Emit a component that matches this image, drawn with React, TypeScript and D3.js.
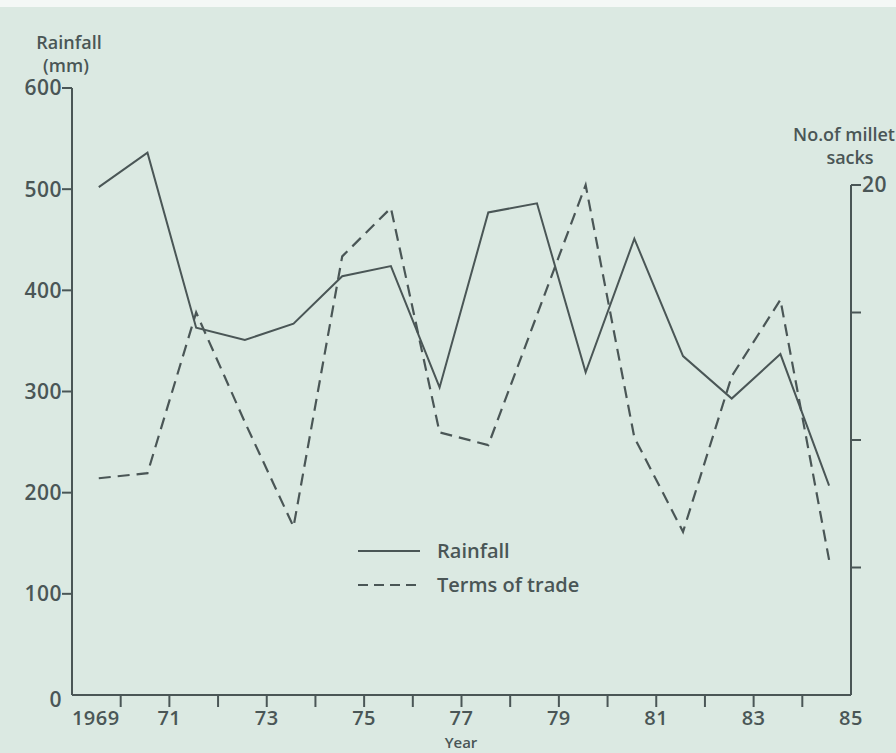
import React from "react";
import * as d3 from "d3";

// data (one value per year, 1969..1984)
const years = [1969, 1970, 1971, 1972, 1973, 1974, 1975, 1976, 1977, 1978, 1979, 1980, 1981, 1982, 1983, 1984];
const rainfall = [502, 536, 363, 351, 367, 414, 424, 304, 477, 486, 319, 451, 335, 293, 337, 207];
const termsOfTrade = [8.5, 8.7, 15.0, 10.7, 6.6, 17.2, 19.1, 10.3, 9.8, 14.9, 20.0, 10.1, 6.4, 12.5, 15.5, 5.3];

const rainTicks = [0, 100, 200, 300, 400, 500, 600];
const sackTicks = [5, 10, 15, 20];
const yearTicks = [1970, 1971, 1972, 1973, 1974, 1975, 1976, 1977, 1978, 1979, 1980, 1981, 1982, 1983, 1984, 1985];
const yearLabels = ["1969", "71", "", "73", "", "75", "", "77", "", "79", "", "81", "", "83", "", "85"];

const W = 896;
const H = 753;
const ink = "#4a5656";
const font = "'Open Sans', sans-serif";

export default function App() {
  const left = 72;
  const right = 851;
  const top = 88;
  const bottom = 695;
  const rightTop = 185;

  const x = d3.scaleLinear().domain([1969, 1985]).range([left, right]);
  const yRain = d3.scaleLinear().domain([0, 600]).range([bottom, top]);
  const ySacks = d3.scaleLinear().domain([0, 20]).range([bottom, rightTop]);

  // points sit about the middle of each year
  const xPos = (yr: number) => x(yr + 0.55);

  const rainLine = d3
    .line<number>()
    .x((d, i) => xPos(years[i]))
    .y((d) => yRain(d));
  const tradeLine = d3
    .line<number>()
    .x((d, i) => xPos(years[i]))
    .y((d) => ySacks(d));

  const txt = { fontFamily: font, fontWeight: 600, fill: ink, fontSize: 18 };
  const leg = { ...txt, fontSize: 20 };
  const tick = { ...txt, fontSize: 21, letterSpacing: 0.5 };

  return (
    <svg
      width={W}
      height={H}
      style={{ position: "absolute", left: 0, top: 0, background: "#dbe9e2" }}
    >
      <rect x={0} y={0} width={W} height={7} fill="#f4f8f6" />

      {/* left axis */}
      <line x1={left} x2={left} y1={top} y2={bottom} stroke={ink} strokeWidth={2} />
      {rainTicks.map((t) => (
        <g key={t}>
          {t > 0 && (
            <line x1={left - 10} x2={left} y1={yRain(t)} y2={yRain(t)} stroke={ink} strokeWidth={2} />
          )}
          <text
            x={left - 10}
            y={t > 0 ? yRain(t) : yRain(t) + 5}
            dy="0.35em"
            textAnchor="end"
            {...tick}
          >
            {t}
          </text>
        </g>
      ))}
      <text x={69} y={49} textAnchor="middle" {...txt}>Rainfall</text>
      <text x={66} y={72} textAnchor="middle" {...txt}>(mm)</text>

      {/* right axis */}
      <line x1={right} x2={right} y1={rightTop} y2={bottom} stroke={ink} strokeWidth={2} />
      {sackTicks.map((t) => (
        <line key={t} x1={right} x2={right + 10} y1={ySacks(t)} y2={ySacks(t)} stroke={ink} strokeWidth={2} />
      ))}
      <text x={862} y={ySacks(20)} dy="0.35em" {...tick}>20</text>
      <text x={895} y={141} textAnchor="end" {...txt}>No.of millet</text>
      <text x={850} y={164} textAnchor="middle" {...txt}>sacks</text>

      {/* bottom axis */}
      <line x1={left} x2={right} y1={bottom} y2={bottom} stroke={ink} strokeWidth={2} />
      {yearTicks.map((t, i) => (
        <g key={t}>
          {t < 1985 && (
            <line x1={x(t)} x2={x(t)} y1={bottom} y2={bottom + 12} stroke={ink} strokeWidth={2} />
          )}
          <text
            x={i === 0 ? x(t) - 1 : x(t)}
            y={725}
            textAnchor={i === 0 ? "end" : "middle"}
            {...tick}
            fontSize={20}
          >
            {yearLabels[i]}
          </text>
        </g>
      ))}
      <text x={461} y={748} textAnchor="middle" {...txt} fontSize={15}>Year</text>

      {/* series */}
      <path d={rainLine(rainfall) || ""} fill="none" stroke={ink} strokeWidth={2} />
      <path
        d={tradeLine(termsOfTrade) || ""}
        fill="none"
        stroke={ink}
        strokeWidth={2.2}
        strokeDasharray="12,7"
      />

      {/* legend */}
      <line x1={358} x2={420} y1={551} y2={551} stroke={ink} strokeWidth={2} />
      <text x={437} y={551} dy="0.35em" {...leg}>Rainfall</text>
      <line x1={358} x2={420} y1={585} y2={585} stroke={ink} strokeWidth={2.2} strokeDasharray="10,6" />
      <text x={437} y={585} dy="0.35em" {...leg}>Terms of trade</text>
    </svg>
  );
}
